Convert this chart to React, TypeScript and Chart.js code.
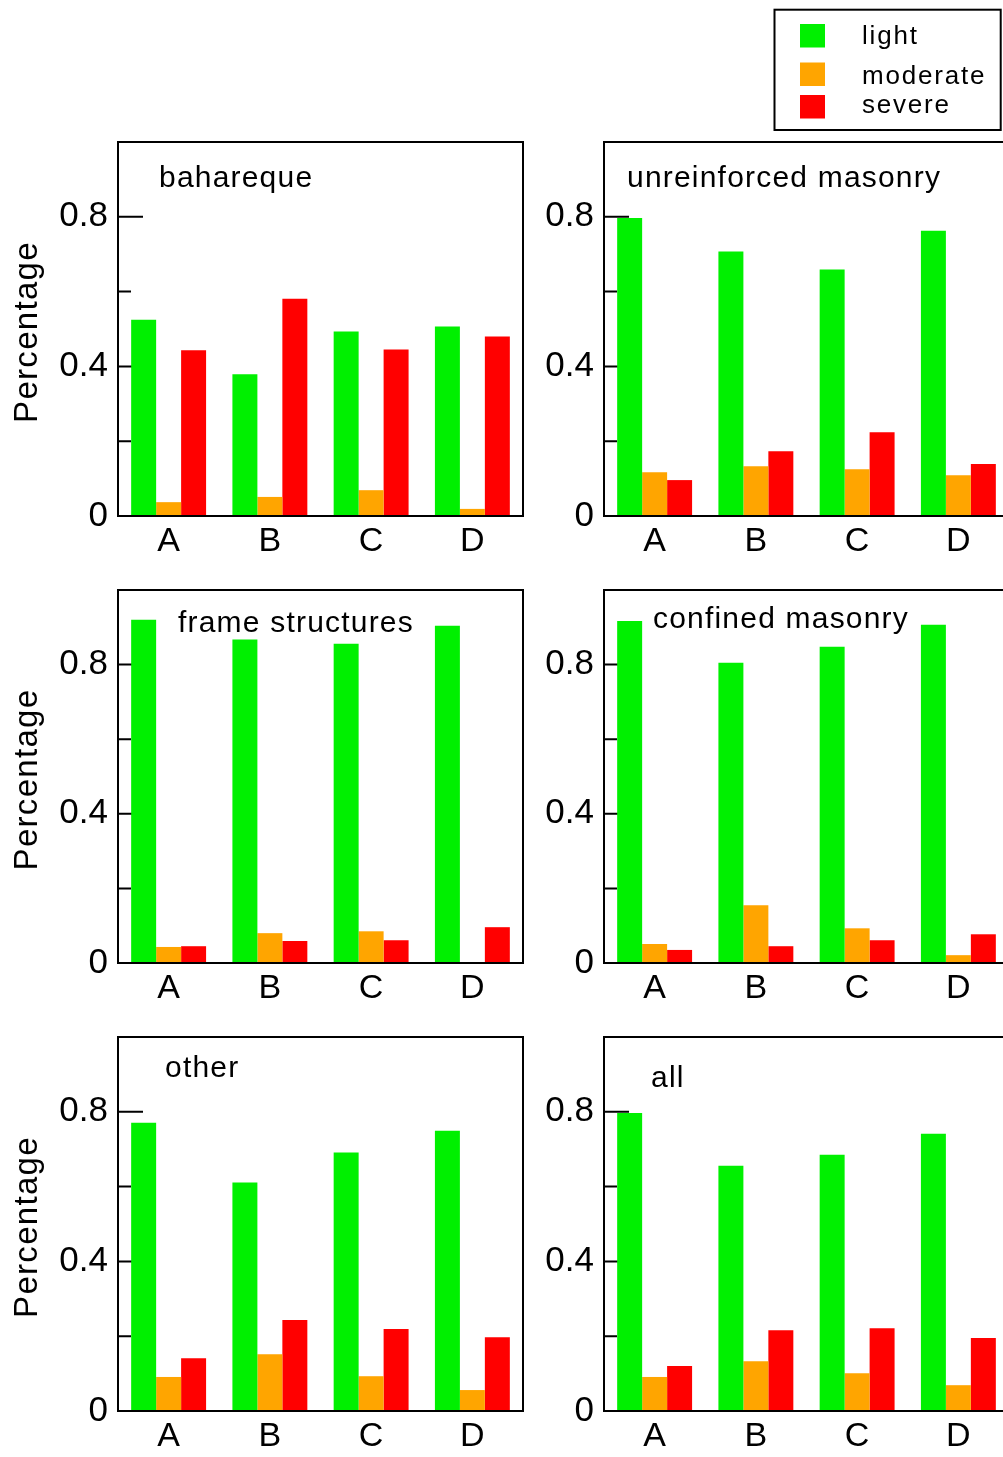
import React, { useEffect, useRef } from 'react';
import { Chart, registerables } from 'chart.js';

Chart.register(...registerables);

// ---------- data ----------
const categories = ['A', 'B', 'C', 'D'];
const seriesNames = ['light', 'moderate', 'severe'];
const seriesColors = ['#00f000', '#ffa500', '#ff0000'];

const yMajorTicks = [0, 0.4, 0.8];
const yMinorTicks = [0.2, 0.6];
const yAxisTitle = 'Percentage';

const baharequeLight = [0.525, 0.379, 0.493, 0.507];
const baharequeModerate = [0.037, 0.051, 0.069, 0.019];
const baharequeSevere = [0.443, 0.581, 0.445, 0.48];

const unreinforcedLight = [0.797, 0.707, 0.659, 0.763];
const unreinforcedModerate = [0.117, 0.133, 0.125, 0.109];
const unreinforcedSevere = [0.096, 0.173, 0.224, 0.139];

const frameLight = [0.92, 0.867, 0.856, 0.904];
const frameModerate = [0.043, 0.08, 0.085, 0];
const frameSevere = [0.045, 0.059, 0.061, 0.096];

const confinedLight = [0.917, 0.805, 0.848, 0.907];
const confinedModerate = [0.051, 0.155, 0.093, 0.021];
const confinedSevere = [0.035, 0.045, 0.061, 0.077];

const otherLight = [0.771, 0.611, 0.691, 0.749];
const otherModerate = [0.091, 0.152, 0.093, 0.056];
const otherSevere = [0.141, 0.243, 0.219, 0.197];

const allLight = [0.797, 0.656, 0.685, 0.741];
const allModerate = [0.091, 0.133, 0.101, 0.069];
const allSevere = [0.12, 0.216, 0.221, 0.195];

const panelTitles = ['bahareque', 'unreinforced masonry', 'frame structures', 'confined masonry', 'other', 'all'];
const panelSeries = [
  [baharequeLight, baharequeModerate, baharequeSevere],
  [unreinforcedLight, unreinforcedModerate, unreinforcedSevere],
  [frameLight, frameModerate, frameSevere],
  [confinedLight, confinedModerate, confinedSevere],
  [otherLight, otherModerate, otherSevere],
  [allLight, allModerate, allSevere],
];

// ---------- layout (page pixels) ----------
const FONT = '"Liberation Sans", Arial, Helvetica, sans-serif';
const colLeft = [118, 604];
const rowTop = [142, 590, 1037];
const rowBottom = [516, 963, 1411];
const AREA_W = 405;
const Y_AXIS_W = 118;
const RIGHT_PAD = 17;
const X_AXIS_H = 50;
const titlePos = [
  [159, 187],
  [627, 187],
  [178, 632],
  [653, 628],
  [165, 1077],
  [651, 1087],
];

function Panel({ index }: { index: number }) {
  const ref = useRef<HTMLCanvasElement | null>(null);
  const col = index % 2;
  const row = Math.floor(index / 2);
  const padTop = row === 0 ? rowTop[0] : 40;
  const canvasLeft = colLeft[col] - Y_AXIS_W;
  const canvasTop = rowTop[row] - padTop;
  const width = Y_AXIS_W + AREA_W + RIGHT_PAD;
  const height = padTop + (rowBottom[row] - rowTop[row]) + X_AXIS_H;

  useEffect(() => {
    const canvas = ref.current;
    if (!canvas) return;
    const showYTitle = col === 0;
    const showLegend = index === 1;
    const [tx, ty] = titlePos[index];

    const panelPlugin = {
      id: 'panelDecor',
      beforeDatasetsDraw(chart: any) {
        const ctx = chart.ctx;
        const y = chart.scales.y;
        const left = chart.chartArea.left;
        ctx.save();
        ctx.strokeStyle = '#000';
        ctx.lineWidth = 2;
        ctx.beginPath();
        yMajorTicks.forEach((v) => {
          if (v === 0) return;
          const py = y.getPixelForValue(v);
          ctx.moveTo(left, py);
          ctx.lineTo(left + 25, py);
        });
        yMinorTicks.forEach((v) => {
          const py = y.getPixelForValue(v);
          ctx.moveTo(left, py);
          ctx.lineTo(left + 13, py);
        });
        ctx.stroke();
        ctx.restore();
      },
      afterDatasetsDraw(chart: any) {
        const ctx = chart.ctx;
        const { left, top, right, bottom } = chart.chartArea;
        ctx.save();
        ctx.strokeStyle = '#000';
        ctx.lineWidth = 2;
        ctx.strokeRect(left, top, right - left, bottom - top);
        // panel title
        ctx.fillStyle = '#000';
        ctx.font = `30px ${FONT}`;
        (ctx as any).letterSpacing = '1.2px';
        ctx.textAlign = 'left';
        ctx.textBaseline = 'alphabetic';
        ctx.fillText(panelTitles[index], tx - canvasLeft, ty - canvasTop);
        // y axis title
        if (showYTitle) {
          ctx.font = `33px ${FONT}`;
          (ctx as any).letterSpacing = '1.3px';
          const w = ctx.measureText(yAxisTitle).width;
          ctx.translate(36.7, (top + bottom) / 2 + 3);
          ctx.rotate(-Math.PI / 2);
          ctx.fillText(yAxisTitle, -w / 2, 0);
        }
        ctx.restore();
        if (showLegend) {
          ctx.save();
          const ox = -canvasLeft;
          const oy = -canvasTop;
          ctx.strokeStyle = '#000';
          ctx.lineWidth = 2;
          ctx.strokeRect(774.5 + ox, 9.7 + oy, 226.2, 120.3);
          const sqY = [24, 62.5, 95];
          const txtY = [44.3, 84.3, 113.3];
          ctx.font = `26px ${FONT}`;
          (ctx as any).letterSpacing = '1.8px';
          ctx.textAlign = 'left';
          ctx.textBaseline = 'alphabetic';
          chart.data.datasets.forEach((ds: any, i: number) => {
            ctx.fillStyle = ds.backgroundColor;
            ctx.fillRect(800 + ox, sqY[i] + oy, 25, 23.5);
            ctx.fillStyle = '#000';
            ctx.fillText(ds.label, 862 + ox, txtY[i] + oy);
          });
          ctx.restore();
        }
      },
    };

    const chart = new Chart(canvas, {
      type: 'bar',
      data: {
        labels: categories,
        datasets: seriesNames.map((name, i) => ({
          label: name,
          data: panelSeries[index][i],
          backgroundColor: seriesColors[i],
          borderWidth: 0,
          barPercentage: 1,
          categoryPercentage: 0.74,
        })),
      },
      options: {
        responsive: false,
        animation: false,
        devicePixelRatio: 1,
        layout: { padding: { top: padTop, right: RIGHT_PAD, left: 0, bottom: 0 } },
        plugins: { legend: { display: false }, tooltip: { enabled: false } },
        scales: {
          x: {
            type: 'category',
            grid: { display: false, drawTicks: false },
            border: { display: false },
            ticks: {
              color: '#000',
              font: { family: FONT, size: 34 },
              padding: 5,
              maxRotation: 0,
              autoSkip: false,
            },
            afterFit: (s: any) => {
              s.height = X_AXIS_H;
            },
          },
          y: {
            min: 0,
            max: 1,
            grid: { display: false, drawTicks: false },
            border: { display: false },
            ticks: {
              stepSize: 0.2,
              color: '#000',
              font: { family: FONT, size: 35 },
              padding: 10,
              callback: (v: any) => {
                const n = Number(v);
                const hit = yMajorTicks.find((m) => Math.abs(m - n) < 1e-6);
                return hit === undefined ? '' : String(hit);
              },
            },
            afterFit: (s: any) => {
              s.width = Y_AXIS_W;
            },
          },
        },
      } as any,
      plugins: [panelPlugin],
    });
    return () => chart.destroy();
  }, [index]);

  return (
    <canvas
      ref={ref}
      width={width}
      height={height}
      style={{ position: 'absolute', left: canvasLeft, top: canvasTop, width, height }}
    />
  );
}

export default function App() {
  useEffect(() => {
    document.body.style.margin = '0';
  }, []);
  return (
    <div
      style={{
        position: 'relative',
        width: 1003,
        height: 1457,
        overflow: 'hidden',
        background: '#fff',
      }}
    >
      {panelTitles.map((_, i) => (
        <Panel key={i} index={i} />
      ))}
    </div>
  );
}
